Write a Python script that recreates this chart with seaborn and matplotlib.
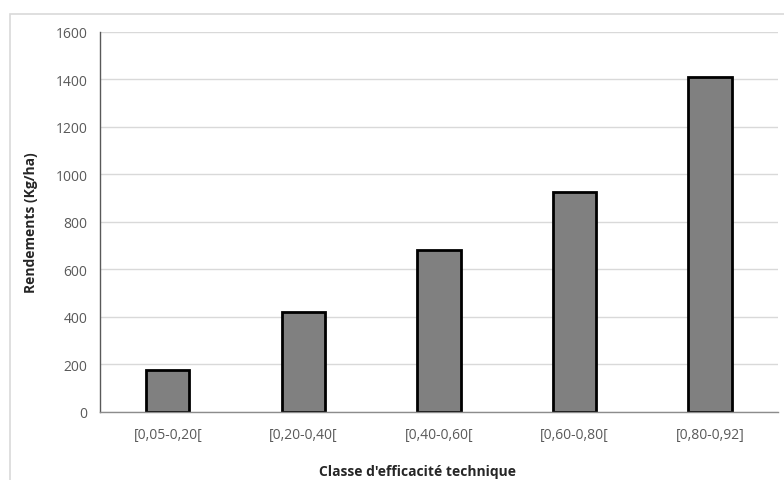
import pandas as pd
import matplotlib.pyplot as plt
import seaborn as sns
from matplotlib.patches import Rectangle

# Data
classes = ["[0,05-0,20[", "[0,20-0,40[", "[0,40-0,60[", "[0,60-0,80[", "[0,80-0,92]"]
rendements = [175, 422, 684, 928, 1410]

data = pd.DataFrame({"Classe": classes, "Rendement": rendements})

sns.set_style("white")
plt.rcParams["font.family"] = ["Open Sans", "DejaVu Sans"]

fig = plt.figure(figsize=(7.84, 4.81), dpi=100)
ax = fig.add_axes([0.1276, 0.1414, 0.8644, 0.79])

# light chart-area border
fig.patches.append(Rectangle((10 / 784, -0.1), 1.2, 1 - 15 / 481 + 0.1,
                             transform=fig.transFigure, fill=False,
                             edgecolor="#d9d9d9", linewidth=1.2, zorder=0))

sns.barplot(data=data, x="Classe", y="Rendement", color="#808080",
            saturation=1, width=0.32, edgecolor="black", linewidth=2, ax=ax)

ax.set_ylim(0, 1600)
ax.set_yticks(range(0, 1601, 200))
ax.yaxis.grid(True, color="#d9d9d9", linewidth=1)
ax.set_axisbelow(True)

for s in ["top", "right"]:
    ax.spines[s].set_visible(False)
ax.spines["left"].set_color("#595959")
ax.spines["left"].set_linewidth(1)
ax.spines["bottom"].set_color("#8c8c8c")
ax.spines["bottom"].set_linewidth(1)

ax.tick_params(axis="both", length=0, labelsize=10, labelcolor="#595959")
ax.tick_params(axis="x", pad=11)
ax.tick_params(axis="y", pad=9)

ax.set_xlabel("Classe d'efficacité technique", fontsize=10, fontweight="bold")
ax.set_ylabel("Rendements (Kg/ha)", fontsize=10, fontweight="bold")
ax.xaxis.set_label_coords(0.469, -0.138)
ax.yaxis.set_label_coords(-0.092, 0.5)

fig.savefig("out.png", dpi=100)
